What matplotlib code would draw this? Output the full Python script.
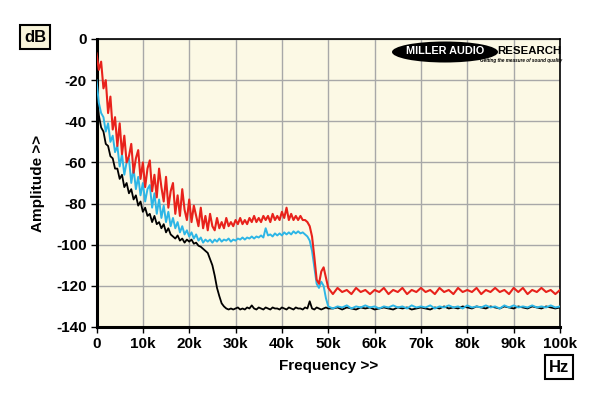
import numpy as np
import matplotlib
matplotlib.use("Agg")
import matplotlib.pyplot as plt
from matplotlib.patches import Ellipse

# ---------------- data ----------------
# frequency grid in kHz: 0..50 step 0.5, then 51..100 step 1
freq_fine = np.arange(0, 50.01, 0.5)
freq_coarse = np.arange(51, 100.01, 1.0)

red_fine = [-7, -15, -11, -24, -20, -36, -28, -44, -38, -52,
            -41, -56, -47, -60, -57, -51, -65, -58, -54, -68,
            -60, -72, -63, -59, -74, -66, -77, -63, -72, -79,
            -67, -82, -74, -70, -85, -76, -86, -73, -83, -88,
            -78, -89, -81, -86, -91, -82, -92, -86, -93, -85,
            -91, -93, -87, -92, -89, -92, -87, -91, -89, -91,
            -88, -90, -87, -90, -88, -90, -87, -89, -86, -89,
            -87, -89, -86, -88, -86, -89, -85, -88, -86, -88,
            -84, -87, -82, -88, -85, -88, -86, -88, -86, -88,
            -88, -89, -91, -96, -106, -117, -119, -113, -111, -116,
            -121]
red_coarse = [-124, -121, -123, -122, -124, -121, -123, -122, -124, -122,
              -123, -121, -124, -122, -123, -121, -124, -122, -123, -121,
              -123, -122, -124, -121, -123, -122, -124, -121, -123, -122,
              -123, -121, -124, -122, -123, -121, -123, -122, -124, -121,
              -123, -121, -124, -122, -123, -121, -123, -122, -124, -122]

cyan_fine = [-20, -31, -36, -38, -45, -41, -50, -47, -55, -52,
             -62, -56, -66, -60, -58, -70, -63, -73, -67, -76,
             -70, -79, -73, -71, -82, -75, -85, -78, -87, -81,
             -89, -84, -91, -87, -92, -89, -94, -91, -95, -93,
             -96, -94, -97, -95, -98, -96.5, -99, -97.5, -98.5, -97.5,
             -99, -97.5, -98.5, -97, -98.5, -97.5, -98, -97, -98.5, -97.5,
             -98, -97, -97.5, -96.5, -97.5, -96.5, -97, -96, -97, -96,
             -96.5, -95.5, -96.5, -92, -95.5, -95, -96, -94.5, -95.5, -94.5,
             -95.5, -94, -95, -94, -95, -93.5, -94.5, -93.5, -94.5, -94,
             -95, -96, -98, -103, -111, -119, -121, -118, -120, -126,
             -130]
cyan_coarse = [-131, -130, -130.5, -129.5, -131, -130, -130.5, -129.5, -130.5, -130,
               -131, -130, -130.5, -129.5, -130.5, -130, -131, -129.5, -130.5, -130,
               -130.5, -129.5, -131, -130, -130.5, -129.5, -130.5, -130, -131, -129.5,
               -130.5, -130, -130.5, -129.5, -130.5, -130, -131, -129.5, -130.5, -129.5,
               -130.5, -130, -130.5, -129.5, -130.5, -130, -130.5, -129.5, -130.5, -130]

black_fine = [-25, -37, -43, -45, -51, -52, -57, -58, -63, -63,
              -68, -66, -72, -70, -75, -73, -78, -76, -81, -79,
              -84, -82, -86, -85, -89, -86, -90, -89, -92, -90,
              -94, -92, -95, -96, -97, -95.5, -98, -97, -99, -97.5,
              -98.5, -97.5, -99.5, -99, -100.5, -101, -102, -103, -104, -107,
              -110, -115, -121, -125, -128.5, -130, -131, -131.5, -131, -131.5,
              -131, -130.5, -131.5, -131, -131.5, -130.5, -131, -129.5, -131, -131.5,
              -130.5, -131, -131.5, -130.5, -131, -131.5, -130.5, -131, -131, -131.5,
              -130.5, -131, -131.5, -130.5, -131, -131.5, -130.5, -131, -131, -131.5,
              -130.5, -131, -127.5, -131, -131.5, -130.5, -131, -131.5, -131, -130.5,
              -131]
black_coarse = [-131, -130.5, -131.5, -130.5, -131, -131.5, -130.5, -131, -130.5, -131.5,
                -131, -130.5, -131, -131.5, -130.5, -131, -130.5, -131.5, -131, -130.5,
                -131, -131.5, -130.5, -131, -130, -131, -130.5, -131, -130, -130.5,
                -131, -130, -130.5, -131, -130, -130.5, -131, -130, -130.5, -131,
                -130, -130.5, -131, -130, -130.5, -131, -130, -130.5, -131, -130.5]

y_ticks = [0, -20, -40, -60, -80, -100, -120, -140]
x_ticks = [0, 10, 20, 30, 40, 50, 60, 70, 80, 90, 100]
x_tick_labels = ["0", "10k", "20k", "30k", "40k", "50k", "60k", "70k", "80k", "90k", "100k"]

# ---------------- figure ----------------
plt.rcParams['font.family'] = ['Liberation Sans', 'DejaVu Sans']
fig = plt.figure(figsize=(6.0, 3.96), dpi=100)
fig.patch.set_facecolor('white')
ax = fig.add_axes([96.5 / 600, 1 - 327 / 396, (560 - 96.5) / 600, (327 - 39) / 396])
ax.set_facecolor('#FCF9E5')

freq = np.concatenate([freq_fine, freq_coarse])
black = np.concatenate([black_fine, black_coarse])
cyan = np.concatenate([cyan_fine, cyan_coarse])
red = np.concatenate([red_fine, red_coarse])

ax.plot(freq, black, color='black', lw=1.3, zorder=3)
ax.plot(freq, cyan, color='#2DB6E6', lw=1.4, zorder=4)
ax.plot(freq, red, color='#E8221B', lw=1.5, zorder=5)

ax.set_xlim(0, 100)
ax.set_ylim(-140, 0)
ax.set_xticks(x_ticks)
ax.set_xticklabels(x_tick_labels)
ax.set_yticks(y_ticks)
ax.set_yticklabels([str(v) for v in y_ticks])
ax.grid(True, color='#A8A8A8', lw=1.0, zorder=1)
ax.set_axisbelow(True)

for lab in ax.get_xticklabels() + ax.get_yticklabels():
    lab.set_fontweight('bold')
    lab.set_fontsize(11)
ax.tick_params(axis='both', direction='out', length=4, width=1, color='black', pad=3)

for s in ['top', 'right']:
    ax.spines[s].set_linewidth(1.2)
for s in ['left', 'bottom']:
    ax.spines[s].set_linewidth(2.2)

ax.set_xlabel('Frequency >>', fontsize=11, fontweight='bold', labelpad=6)
ax.set_ylabel('Amplitude >>', fontsize=11, fontweight='bold', labelpad=8)

# unit boxes
fig.text(35 / 600, 1 - 37 / 396, 'dB', fontsize=12, fontweight='bold', ha='center', va='center',
         bbox=dict(boxstyle='square,pad=0.25', fc='#F8F4DA', ec='black', lw=1.5))
fig.text(559 / 600, 1 - 367 / 396, 'Hz', fontsize=12, fontweight='bold', ha='center', va='center',
         bbox=dict(boxstyle='square,pad=0.25', fc='white', ec='black', lw=1.5))

# logo
ell = Ellipse((445 / 600, 1 - 52 / 396), 106 / 600, 21 / 396, transform=fig.transFigure,
              facecolor='black', edgecolor='none', zorder=10)
fig.add_artist(ell)
fig.text(445 / 600, 1 - 51.5 / 396, 'MILLER AUDIO', color='white', fontsize=7.8, fontweight='bold',
         ha='center', va='center', zorder=11)
fig.text(529 / 600, 1 - 51 / 396, 'RESEARCH', color='black', fontsize=8.2, fontweight='bold',
         ha='center', va='center', zorder=11)
fig.text(521 / 600, 1 - 60.5 / 396, 'Getting the measure of sound quality', color='black',
         fontsize=3.3, fontweight='bold', style='italic', ha='center', va='center', zorder=11)

fig.savefig('out.png', dpi=100)
